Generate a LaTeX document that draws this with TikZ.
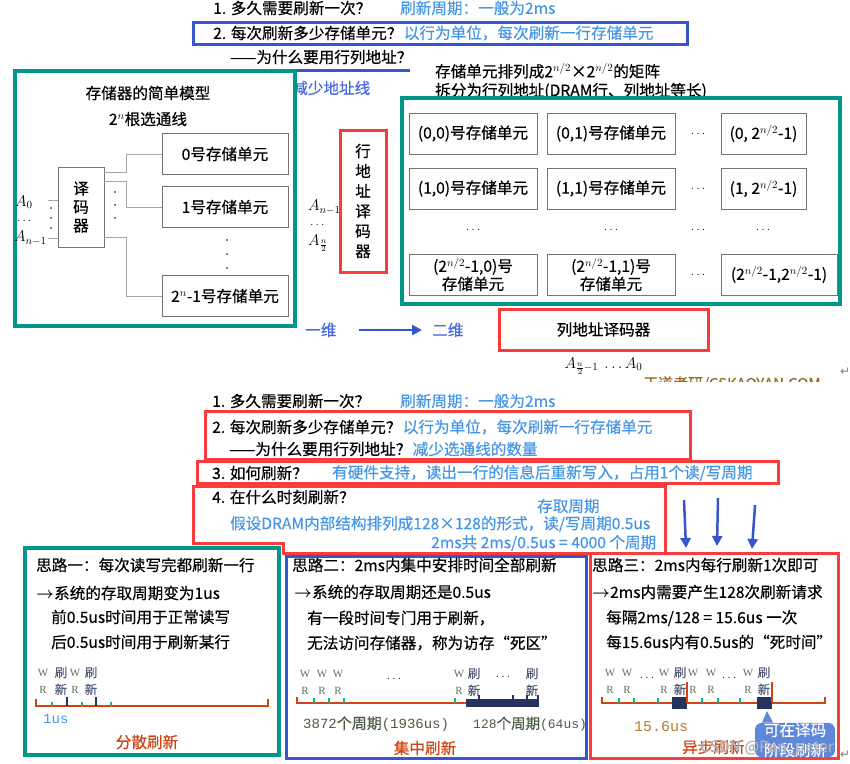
\RequirePackage{fix-cm}
\documentclass[tikz,border=0pt]{standalone}
\usepackage{amsmath}
\usepackage{fontspec}
\setmainfont{Noto Sans CJK SC}[FakeBold=0.4]
\newfontfamily\serf{Liberation Serif}
\newfontfamily\monf{Liberation Mono}
\newfontfamily\djv{DejaVu Sans}
\usetikzlibrary{positioning, arrows.meta, calc}
\definecolor{tealc}{RGB}{0,150,140}
\definecolor{redc}{RGB}{250,60,60}
\definecolor{bluec}{RGB}{55,85,205}
\definecolor{lblue}{RGB}{70,150,230}
\definecolor{mblue}{RGB}{70,105,225}
\definecolor{rust}{RGB}{205,70,20}
\definecolor{navy}{RGB}{40,50,95}
\definecolor{tickc}{RGB}{40,170,140}
\definecolor{wrc}{RGB}{95,115,85}
\definecolor{slate}{RGB}{85,95,125}
\definecolor{brownc}{RGB}{180,125,45}
\definecolor{callc}{RGB}{95,135,220}
\newcommand\msz{\fontsize{15.6}{19}\selectfont}
\newcommand\ssz{\fontsize{12.5}{17}\selectfont}

\begin{document}
\begin{tikzpicture}[x=1pt,y=-1pt,
  tx/.style={anchor=west,inner sep=0pt,font=\msz},
  btx/.style={tx,text=lblue},
  ctx/.style={inner sep=0pt,font=\msz},
  cell/.style={draw=black!55,line width=0.8pt,align=center,font=\msz,inner sep=0pt},
  mc/.style={cell,minimum height=41,minimum width=128},
  redb/.style={draw=redc,line width=3pt},
  tealb/.style={draw=tealc,line width=4pt},
  blueb/.style={draw=bluec,line width=3pt},
  wire/.style={draw=black!35,line width=0.8pt},
  wr/.style={inner sep=0pt,font=\fontsize{11}{17}\serf,text=wrc,align=center},
  rf/.style={inner sep=0pt,font=\ssz,text=slate,align=center},
  el/.style={inner sep=0pt,font=\ssz},
  tline/.style={draw=rust,line width=1.5pt},
  tk/.style={draw=tickc,line width=1.2pt},
  nk/.style={draw=navy,line width=1.2pt},
  bigarr/.style={draw=bluec,line width=2.5pt,-{Triangle[length=10pt,width=10pt]}}]
  \useasboundingbox (0,0) rectangle (850,763);
  \clip (0,0) rectangle (850,763);
  \fill[white] (0,0) rectangle (850,763);

  % top slide
  \node[tx](q1) at (213,8){1. 多久需要刷新一次？};
  \node[btx](a1) at (400,8){刷新周期：一般为2ms};
  \draw[blueb] (193,22) rectangle (687,44);
  \node[tx](q2) at (213,33){2. 每次刷新多少存储单元？};
  \node[btx,right=1pt of q2](a2){以行为单位，每次刷新一行存储单元};
  \node[tx](q2b) at (230,57){——为什么要用行列地址？};
  \draw[blueb] (255,70) -- (410,70);
  \node[tx,text=mblue](a2b) at (292,88){减少地址线};
  \node[tx](m1) at (435,71){存储单元排列成2$^{n/2}$×2$^{n/2}$的矩阵};
  \node[tx](m2) at (435,91){拆分为行列地址(DRAM行、列地址等长)};

  \draw[tealb] (15,71) rectangle (295,326);
  \node[ctx](lt1) at (148,93){存储器的简单模型};
  \node[ctx](lt2) at (148,119){2$^{n}$根选通线};
  \node[cell,minimum width=46,minimum height=80,font=\fontsize{15.6}{18.5}\selectfont](dec) at (81,207){译\\码\\器};
  \node[cell,minimum width=126,minimum height=41](u0) at (225,154){0号存储单元};
  \node[cell,minimum width=126,minimum height=41](u1) at (225,207){1号存储单元};
  \node[cell,minimum width=126,minimum height=41](u2) at (225,296){2$^{n}$-1号存储单元};
  \draw[wire] ([yshift=-6pt]dec.north east) -- ++(22,0) |- (u0.west);
  \draw[wire] ([yshift=-15pt]dec.north east) -- ++(22,0) |- (u1.west);
  \draw[wire] ([yshift=10pt]dec.south east) -- ++(22,0) |- (u2.west);
  \draw[wire] ([yshift=7pt]dec.west) -- ++(-10,0);
  \draw[wire] ([yshift=-31pt]dec.west) -- ++(-10,0);
  \foreach \y in {208,218,228} \fill (51,\y) circle (0.9pt);
  \foreach \y in {192,205,218} \fill (115,\y) circle (0.9pt);
  \foreach \y in {240,254,268} \fill (227,\y) circle (0.9pt);
  \node[tx](ai0) at (15,202){$A_0$};
  \node[el,anchor=west](aid) at (17,221){$\ldots$};
  \node[tx](ain) at (14,238){$A_{n-1}$};

  \node[draw=redc,line width=3pt,minimum width=46,minimum height=142,align=center,inner sep=0pt,
    font=\fontsize{15.6}{20}\selectfont](rdec) at (363,201){行\\地\\址\\译\\码\\器};
  \node[tx](ar1) at (308,207){$A_{n-1}$};
  \node[el,anchor=west](ard) at (310,225){$\ldots$};
  \node[tx](ar2) at (308,243){$A_{\frac{n}{2}}$};

  \draw[tealb] (402,98) rectangle (840,304);
  \node[mc](c00) at (473,133.5){(0,0)号存储单元};
  \node[mc](c01) at (611,133.5){(0,1)号存储单元};
  \node[mc,minimum width=85](c0n) at (763.5,133.5){(0, 2$^{n/2}$-1)};
  \node[mc](c10) at (473,188.5){(1,0)号存储单元};
  \node[mc](c11) at (611,188.5){(1,1)号存储单元};
  \node[mc,minimum width=85](c1n) at (763.5,188.5){(1, 2$^{n/2}$-1)};
  \node[mc,font=\fontsize{15.6}{18}\selectfont](cn0) at (473,274.5){(2$^{n/2}$-1,0)号\\存储单元};
  \node[mc,font=\fontsize{15.6}{18}\selectfont](cn1) at (611,274.5){(2$^{n/2}$-1,1)号\\存储单元};
  \node[mc,minimum width=116](cnn) at (779,274.5){(2$^{n/2}$-1,2$^{n/2}$-1)};
  \foreach \y/\r in {133.5/0,188.5/1,230/2,274.5/3} \node[el](hd\r) at (698,\y){$\ldots$};
  \foreach \x/\c in {473/0,611/1,763/2} \node[el](vd\c) at (\x,230){$\ldots$};

  \node[draw=redc,line width=3pt,minimum width=209,minimum height=41,font=\msz](cdec) at (603.5,329.5){列地址译码器};
  \node[inner sep=0pt,font=\msz,below=6pt of cdec](ca){$A_{\frac{n}{2}-1}\ \ldots A_0$};
  \begin{scope}
    \clip (600,360) rectangle (850,381);
    \node[tx,text=brownc!85!black,font=\fontsize{15}{18}\selectfont](wd) at (643,384){王道考研/CSKAOYAN.COM};
  \end{scope}
  \node[tx,text=black!50,font=\fontsize{12}{14}\djv](rt1) at (840,372){↵};

  \node[tx,text=mblue](d1) at (305,330){一维};
  \node[tx,text=mblue](d2) at (432,330){二维};
  \draw[bigarr,shorten <=22pt,shorten >=10pt] (d1) -- (d2);

  % bottom slide
  \node[tx](b1) at (212,401){1. 多久需要刷新一次？};
  \node[btx](c1) at (400,401){刷新周期：一般为2ms};
  \draw[redb] (205,411) rectangle (690,459);
  \node[tx](b2) at (212,427){2. 每次刷新多少存储单元？};
  \node[btx,right=1pt of b2](c2){以行为单位，每次刷新一行存储单元};
  \node[tx](b2b) at (229,449){——为什么要用行列地址？};
  \node[btx,right=1pt of b2b](c2b){减少选通线的数量};
  \draw[redb] (197,461) rectangle (778,483);
  \node[tx](b3) at (212,473){3. 如何刷新？};
  \node[btx](c3) at (332,473){有硬件支持，读出一行的信息后重新写入，占用1个读/写周期};
  \draw[redb] (283,553) -- (665,553) -- (665,486) -- (193,486) -- (193,543) -- (283,543) -- cycle;
  \node[tx](b4) at (212,497){4. 在什么时刻刷新？};
  \node[btx](c4a) at (537,506){存取周期};
  \node[btx](c4b) at (230,524){假设DRAM内部结构排列成128×128的形式，读/写周期0.5us};
  \node[btx](c4c) at (431,543){2ms共 2ms/0.5us = 4000 个周期};
  \coordinate (p1) at (684,500); \coordinate (p2) at (718,498); \coordinate (p3) at (755,505);
  \draw[bigarr] (p1) -- ++(2,48);
  \draw[bigarr] (p2) -- ++(-1,48);
  \draw[bigarr] (p3) -- ++(-3,44);

  % 思路一
  \draw[tealb] (25,548) rectangle (279,755);
  \node[tx](s1a) at (36,565){思路一：每次读写完都刷新一行};
  \node[tx](s1b) at (36,593){$\boldsymbol{\rightarrow}$系统的存取周期变为1us};
  \node[tx](s1c) at (51,617){前0.5us时间用于正常读写};
  \node[tx](s1d) at (51,642){后0.5us时间用于刷新某行};
  \node[wr](w11) at (43,681){W\\R};
  \node[rf](f11) at (61,681){刷\\新};
  \node[wr](w12) at (75,681){W\\R};
  \node[rf](f12) at (91,681){刷\\新};
  \draw[tline] (36,699) -- (36,706) -- (268,706) -- (268,699);
  \foreach \x in {52,82,111} \draw[tk] (\x,702) -- (\x,706);
  \foreach \x in {67,96} \draw[nk] (\x,697) -- (\x,706);
  \node[tx,text=lblue,font=\fontsize{14}{16}\monf](us1) at (43,719){1us};
  \node[ctx,text=rust](n1) at (147,742){分散刷新};

  % 思路二
  \draw[blueb] (286,556) rectangle (586,758);
  \node[tx](s2a) at (292,565){思路二：2ms内集中安排时间全部刷新};
  \node[tx](s2b) at (294,592){$\boldsymbol{\rightarrow}$系统的存取周期还是0.5us};
  \node[tx](s2c) at (307,618){有一段时间专门用于刷新，};
  \node[tx](s2d) at (307,643){无法访问存储器，称为访存“死区”};
  \foreach \x/\i in {305/1,322/2,338/3,459/4} \node[wr](w2\i) at (\x,682){W\\R};
  \node[rf](f21) at (474,682){刷\\新};
  \node[rf](f22) at (532,682){刷\\新};
  \node[el](e21) at (394,679){$\ldots$};
  \node[el](e22) at (503,677){$\ldots$};
  \draw[tline] (297,697) -- (297,703) -- (466,703);
  \foreach \x in {314,329,344,455} \draw[tk] (\x,698) -- (\x,703);
  \fill[navy] (466,699) rectangle (539,707);
  \foreach \x in {479,513,527,538} \draw[nk] (\x,695) -- (\x,700);
  \node[tx,text=wrc!80!black,font=\fontsize{15}{18}\selectfont](t21) at (303,724){{\fontsize{14}{16}\monf 3872}个周期{\fontsize{14}{16}\monf (1936us)}};
  \node[tx,text=wrc!80!black,font=\fontsize{14.5}{18}\selectfont](t22) at (473,724){{\fontsize{13}{16}\monf 128}个周期{\fontsize{13}{16}\monf (64us)}};
  \node[ctx,text=rust](n2) at (425,748){集中刷新};

  % 思路三
  \draw[redb] (590,553) rectangle (838,758);
  \node[tx](s3a) at (592,565){思路三：2ms内每行刷新1次即可};
  \node[tx](s3b) at (592,592){$\boldsymbol{\rightarrow}$2ms内需要产生128次刷新请求};
  \node[tx](s3c) at (606,618){每隔2ms/128 = 15.6us 一次};
  \node[tx](s3d) at (606,642){每15.6us内有0.5us的“死时间”};
  \foreach \x/\i in {610/1,627/2,664/3,693/4,711/5,748/6} \node[wr](w3\i) at (\x,681){W\\R};
  \node[rf](f31) at (680,681){刷\\新};
  \node[rf](f32) at (764,681){刷\\新};
  \node[el](e31) at (647,678){$\ldots$};
  \node[el](e32) at (729,678){$\ldots$};
  \draw[tline] (602,697) -- (602,703) -- (825,703) -- (825,697);
  \foreach \x in {619,634,658,702,718,740} \draw[tk] (\x,698) -- (\x,703);
  \fill[navy] (672,697) rectangle (687,709);
  \fill[navy] (757,697) rectangle (772,709);
  \draw[draw=rust,line width=1.2pt] (687,682) -- (687,703);
  \draw[draw=rust,line width=1.2pt] (772,682) -- (772,703);
  \node[tx,text=brownc,font=\fontsize{15}{17}\monf](t31) at (634,727){15.6us};
  \node[tx,text=rust](n3) at (682,747){异步刷新};
  \node[fill=callc,rounded corners=7pt,minimum width=80,minimum height=34,inner sep=0pt,text=white,
    align=center,font=\fontsize{15.6}{20}\selectfont](cl) at (795,740){可在译码\\阶段刷新};
  \fill[callc] ([xshift=-33pt]cl.north) -- (767,711) -- ([xshift=-22pt]cl.north) -- cycle;
  \node[anchor=east,inner sep=0pt,text=black!30,font=\msz](wm) at (834,748){CSDN @Pan\_peter};
  \node[tx,text=black!50,font=\fontsize{12}{14}\djv](rt2) at (840,755){↵};
\end{tikzpicture}
\end{document}
